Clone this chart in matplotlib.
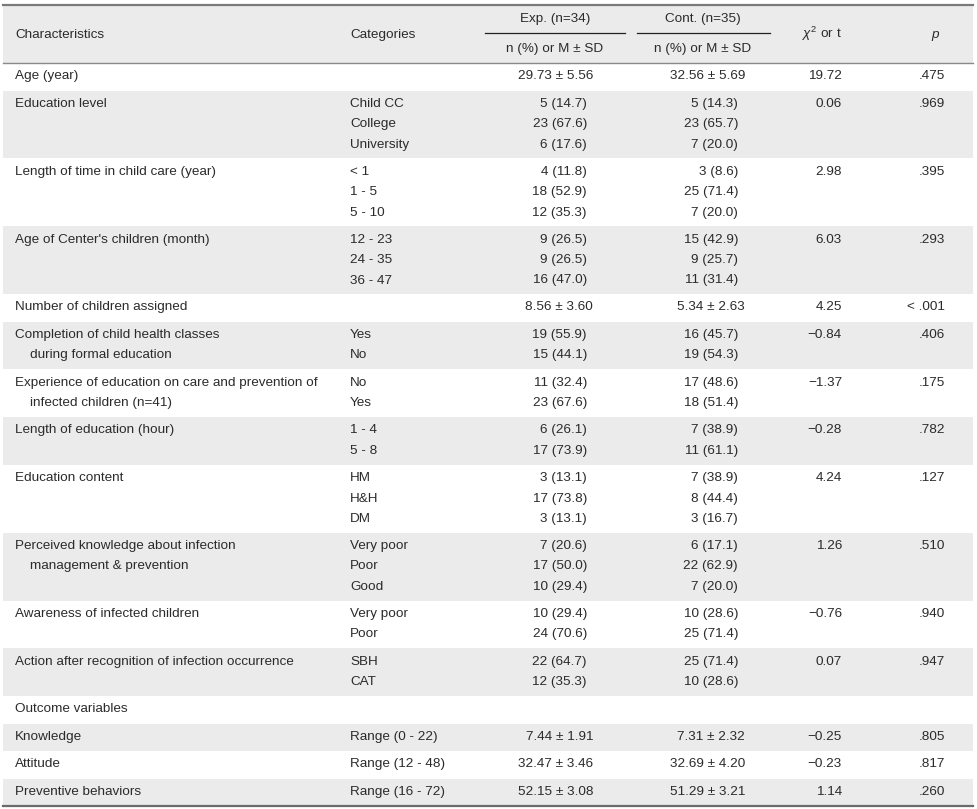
import matplotlib
matplotlib.use("Agg")
import matplotlib.pyplot as plt
from matplotlib.patches import Rectangle

plt.rcParams['font.family'] = ['Liberation Sans', 'DejaVu Sans']
plt.rcParams['mathtext.fontset'] = 'custom'
plt.rcParams['mathtext.it'] = 'Liberation Sans:italic'
plt.rcParams['mathtext.rm'] = 'Liberation Sans'

# ---------------- data ----------------
characteristics = [
    ["Age (year)"],
    ["Education level"],
    ["Length of time in child care (year)"],
    ["Age of Center's children (month)"],
    ["Number of children assigned"],
    ["Completion of child health classes", "during formal education"],
    ["Experience of education on care and prevention of", "infected children (n=41)"],
    ["Length of education (hour)"],
    ["Education content"],
    ["Perceived knowledge about infection", "management & prevention"],
    ["Awareness of infected children"],
    ["Action after recognition of infection occurrence"],
    ["Outcome variables"],
    ["Knowledge"],
    ["Attitude"],
    ["Preventive behaviors"],
]
categories = [
    [""],
    ["Child CC", "College", "University"],
    ["< 1", "1 - 5", "5 - 10"],
    ["12 - 23", "24 - 35", "36 - 47"],
    [""],
    ["Yes", "No"],
    ["No", "Yes"],
    ["1 - 4", "5 - 8"],
    ["HM", "H&H", "DM"],
    ["Very poor", "Poor", "Good"],
    ["Very poor", "Poor"],
    ["SBH", "CAT"],
    [""],
    ["Range (0 - 22)"],
    ["Range (12 - 48)"],
    ["Range (16 - 72)"],
]
exp_values = [
    ["29.73 ± 5.56"],
    ["5 (14.7)", "23 (67.6)", "6 (17.6)"],
    ["4 (11.8)", "18 (52.9)", "12 (35.3)"],
    ["9 (26.5)", "9 (26.5)", "16 (47.0)"],
    ["8.56 ± 3.60"],
    ["19 (55.9)", "15 (44.1)"],
    ["11 (32.4)", "23 (67.6)"],
    ["6 (26.1)", "17 (73.9)"],
    ["3 (13.1)", "17 (73.8)", "3 (13.1)"],
    ["7 (20.6)", "17 (50.0)", "10 (29.4)"],
    ["10 (29.4)", "24 (70.6)"],
    ["22 (64.7)", "12 (35.3)"],
    [""],
    ["7.44 ± 1.91"],
    ["32.47 ± 3.46"],
    ["52.15 ± 3.08"],
]
cont_values = [
    ["32.56 ± 5.69"],
    ["5 (14.3)", "23 (65.7)", "7 (20.0)"],
    ["3 (8.6)", "25 (71.4)", "7 (20.0)"],
    ["15 (42.9)", "9 (25.7)", "11 (31.4)"],
    ["5.34 ± 2.63"],
    ["16 (45.7)", "19 (54.3)"],
    ["17 (48.6)", "18 (51.4)"],
    ["7 (38.9)", "11 (61.1)"],
    ["7 (38.9)", "8 (44.4)", "3 (16.7)"],
    ["6 (17.1)", "22 (62.9)", "7 (20.0)"],
    ["10 (28.6)", "25 (71.4)"],
    ["25 (71.4)", "10 (28.6)"],
    [""],
    ["7.31 ± 2.32"],
    ["32.69 ± 4.20"],
    ["51.29 ± 3.21"],
]
stat_values = ["19.72", "0.06", "2.98", "6.03", "4.25", "\u22120.84", "\u22121.37",
               "\u22120.28", "4.24", "1.26", "\u22120.76", "0.07", "",
               "\u22120.25", "\u22120.23", "1.14"]
p_values = [".475", ".969", ".395", ".293", "< .001", ".406", ".175", ".782",
            ".127", ".510", ".940", ".947", "", ".805", ".817", ".260"]

header_cols = ["Characteristics", "Categories", "Exp. (n=34)", "Cont. (n=35)",
               r"$\chi^2$ or t", "p"]
sub_header = "n (%) or M ± SD"

# ---------------- layout ----------------
W, H = 977, 809
fig = plt.figure(figsize=(W / 100, H / 100), dpi=100)
ax = fig.add_axes([0, 0, 1, 1])
ax.set_xlim(0, W)
ax.set_ylim(H, 0)
ax.axis('off')

TXT = '#2b2b2b'
GRAY = '#ebebeb'
FS = 9.7
x_left, x_right = 3, 973
x_char, x_cat = 15, 350
x_exp_r, x_exp_pm = 587, 593
x_cont_r, x_cont_pm = 738, 745
x_stat_r, x_p_r = 842, 945

top, head_bot = 5, 63
ax.add_patch(Rectangle((x_left, top), x_right - x_left, head_bot - top,
                       facecolor=GRAY, edgecolor='none', zorder=0))
ax.text(x_char, 35, header_cols[0], fontsize=FS, color=TXT, va='center', ha='left')
ax.text(x_cat, 35, header_cols[1], fontsize=FS, color=TXT, va='center', ha='left')
ax.text(555, 19, header_cols[2], fontsize=FS, color=TXT, va='center', ha='center')
ax.text(703, 19, header_cols[3], fontsize=FS, color=TXT, va='center', ha='center')
ax.plot([485, 625], [33, 33], color='#222222', lw=0.9)
ax.plot([637, 770], [33, 33], color='#222222', lw=0.9)
ax.text(555, 49, sub_header, fontsize=FS, color=TXT, va='center', ha='center')
ax.text(703, 49, sub_header, fontsize=FS, color=TXT, va='center', ha='center')
ax.text(822, 34, header_cols[4], fontsize=FS, color=TXT, va='center', ha='center')
ax.text(935, 35, header_cols[5], fontsize=FS, color=TXT, va='center', ha='center',
        style='italic')

y = head_bot
for i in range(len(characteristics)):
    n = max(len(categories[i]), len(characteristics[i]))
    h = 27.5 + 20.2 * (n - 1)
    if i % 2 == 1:
        ax.add_patch(Rectangle((x_left, y), x_right - x_left, h,
                               facecolor=GRAY, edgecolor='none', zorder=0))
    for j, s in enumerate(characteristics[i]):
        ax.text(x_char + (15 if j > 0 else 0), y + 13.2 + 20.5 * j, s,
                fontsize=FS, color=TXT, va='center', ha='left')
    for j, s in enumerate(categories[i]):
        ax.text(x_cat, y + 13.2 + 20.5 * j, s, fontsize=FS, color=TXT,
                va='center', ha='left')
    for j, s in enumerate(exp_values[i]):
        xr = x_exp_pm if '±' in s else x_exp_r
        ax.text(xr, y + 13.2 + 20.5 * j, s, fontsize=FS, color=TXT,
                va='center', ha='right')
    for j, s in enumerate(cont_values[i]):
        xr = x_cont_pm if '±' in s else x_cont_r
        ax.text(xr, y + 13.2 + 20.5 * j, s, fontsize=FS, color=TXT,
                va='center', ha='right')
    ax.text(x_stat_r, y + 13.2, stat_values[i], fontsize=FS, color=TXT,
            va='center', ha='right')
    ax.text(x_p_r, y + 13.2, p_values[i], fontsize=FS, color=TXT,
            va='center', ha='right')
    y += h

bottom = y
ax.plot([x_left, x_right], [top, top], color='#7a7a7a', lw=1.6)
ax.plot([x_left, x_right], [head_bot, head_bot], color='#8a8a8a', lw=1.0)
ax.plot([x_left, x_right], [bottom, bottom], color='#6a6a6a', lw=1.6)

fig.savefig('out.png', dpi=100, facecolor='white')
